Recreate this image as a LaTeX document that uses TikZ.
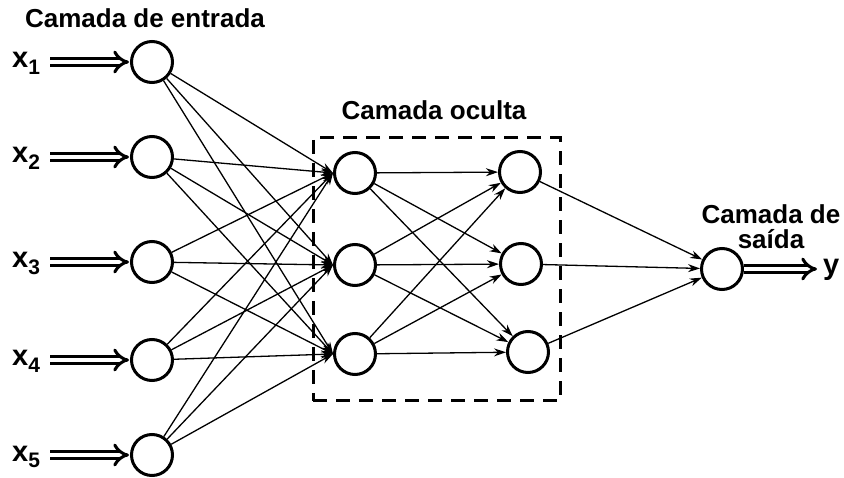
\documentclass[tikz,border=0pt]{standalone}
\usepackage{fontspec}
\setmainfont{Liberation Sans}
\usetikzlibrary{arrows.meta}
\begin{document}
\begin{tikzpicture}[x=1pt,y=-1pt,
  neuron/.style={circle,draw,line width=3pt,minimum size=41pt,inner sep=0pt},
  link/.style={line width=1.3pt,-{Stealth[length=12pt,width=8pt]}},
  feed/.style={double,double distance=4.5pt,line width=3pt,-{Implies[length=7pt]},shorten >=1pt},
  lbl/.style={font=\bfseries\fontsize{26}{28}\selectfont},
  var/.style={font=\bfseries\fontsize{29}{30}\selectfont,inner sep=0pt}]
\useasboundingbox (0,0) rectangle (844,478);

% input layer
\foreach \i/\y in {1/62,2/157,3/262,4/360,5/455}{
  \node[neuron] (in\i) at (152,\y) {};
  \node[var,anchor=base west] (x\i) at (12,\y+6) {x\raisebox{-0.45ex}{\fontsize{21}{21}\selectfont\i}};
  \coordinate (s\i) at (50,\y);
  \draw[feed] (s\i) -- (in\i.west);
}

% hidden layers
\node[neuron] (ha1) at (355,173) {};
\node[neuron] (ha2) at (355,265) {};
\node[neuron] (ha3) at (355,354) {};
\node[neuron] (hb1) at (520,172) {};
\node[neuron] (hb2) at (521,264) {};
\node[neuron] (hb3) at (528,352) {};

% output
\node[neuron] (out) at (722,269) {};
\coordinate (yend) at (818,269);
\draw[feed] (out.east) -- (yend);
\node[var,anchor=base west] (ylab) at (823,275) {y};

% connections
\foreach \i in {1,...,5}
  \foreach \j in {1,2,3}
    \draw[link] (in\i) -- (ha\j.west);
\foreach \i in {1,2,3}
  \foreach \j in {1,2,3}
    \draw[link] (ha\i) -- (hb\j);
\foreach \i in {1,2,3}
  \draw[link] (hb\i) -- (out);

% hidden block frame
\node[draw,line width=3pt,dash pattern=on 14pt off 9pt,minimum width=247pt,minimum height=263pt,inner sep=0pt] (box) at (436.5,269.5) {};

% layer titles
\node[lbl] (t1) at (145,18) {Camada de entrada};
\node[lbl] (t2) at (434,110) {Camada oculta};
\node[lbl,align=center] (t3) at (771,227) {Camada de\\[-3pt]saída};
\end{tikzpicture}
\end{document}
